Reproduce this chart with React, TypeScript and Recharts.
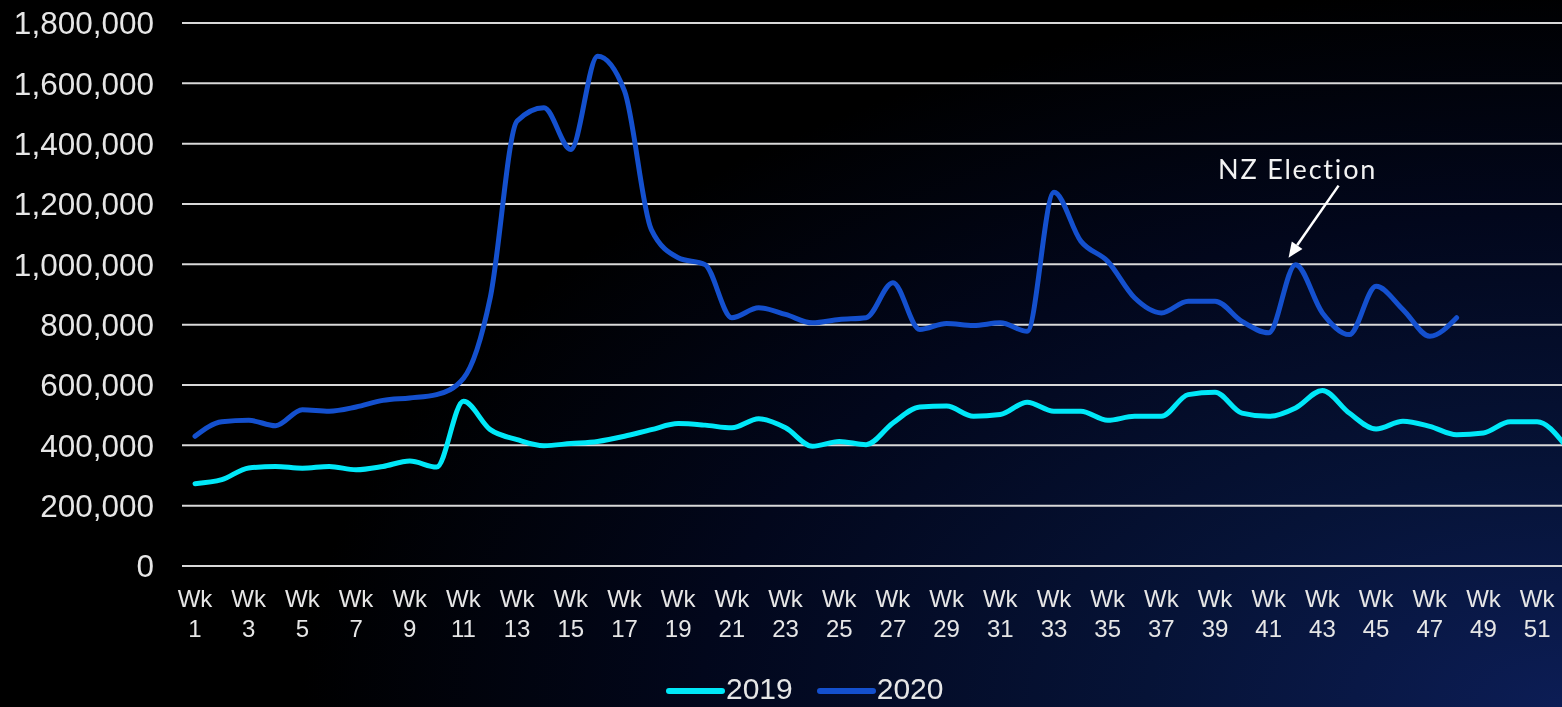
import { CartesianGrid, Legend, Line, LineChart, ReferenceDot, XAxis, YAxis } from "recharts";

const CHART_WIDTH = 1577;
const CHART_HEIGHT = 707;

const weeks = [
  "Wk 1", "Wk 2", "Wk 3", "Wk 4", "Wk 5", "Wk 6", "Wk 7", "Wk 8", "Wk 9", "Wk 10",
  "Wk 11", "Wk 12", "Wk 13", "Wk 14", "Wk 15", "Wk 16", "Wk 17", "Wk 18", "Wk 19", "Wk 20",
  "Wk 21", "Wk 22", "Wk 23", "Wk 24", "Wk 25", "Wk 26", "Wk 27", "Wk 28", "Wk 29", "Wk 30",
  "Wk 31", "Wk 32", "Wk 33", "Wk 34", "Wk 35", "Wk 36", "Wk 37", "Wk 38", "Wk 39", "Wk 40",
  "Wk 41", "Wk 42", "Wk 43", "Wk 44", "Wk 45", "Wk 46", "Wk 47", "Wk 48", "Wk 49", "Wk 50",
  "Wk 51", "Wk 52",
];

const visits2019 = [
  273000, 286000, 325000, 330000, 324000, 330000, 319000, 330000, 348000, 328000,
  546000, 452000, 419000, 399000, 406000, 413000, 430000, 452000, 472000, 467000,
  458000, 488000, 458000, 397000, 413000, 402000, 474000, 527000, 530000, 496000,
  502000, 543000, 513000, 513000, 483000, 496000, 496000, 568000, 576000, 507000,
  496000, 524000, 582000, 507000, 454000, 480000, 463000, 435000, 441000, 478000,
  478000, 405000,
];

const visits2020 = [
  430000, 478000, 483000, 465000, 518000, 513000, 527000, 549000, 557000, 568000,
  622000, 890000, 1475000, 1519000, 1381000, 1690000, 1575000, 1115000, 1022000, 999000,
  823000, 856000, 834000, 806000, 817000, 823000, 939000, 784000, 804000, 797000,
  806000, 778000, 1239000, 1077000, 1010000, 889000, 839000, 878000, 878000, 811000,
  773000, 999000, 839000, 767000, 927000, 850000, 762000, 823000,
];

const yTicks = [0, 200000, 400000, 600000, 800000, 1000000, 1200000, 1400000, 1600000, 1800000];

const electionWeek = "Wk 42";
const electionLabel = "NZ Election";

const COLOR_2019 = "#00e8f8";
const COLOR_2020 = "#1450ce";
const TEXT_COLOR = "#e6e6e6";
const AXIS_FONT = "'Liberation Sans', Arial, sans-serif";

const rows = weeks.map((week, i) => ({
  week,
  y2019: visits2019[i],
  y2020: visits2020[i],
}));

const electionValue = visits2020[weeks.indexOf(electionWeek)];

// two-line category label: "Wk" over the week number
function WeekTick({ x, y, payload }: any) {
  const [prefix, num] = String(payload.value).split(" ");
  return (
    <g fontFamily={AXIS_FONT} fontSize={24} fill={TEXT_COLOR} textAnchor="middle">
      <text x={x} y={y + 41}>{prefix}</text>
      <text x={x} y={y + 71}>{num}</text>
    </g>
  );
}

// label plus arrow pointing at the election-week peak
function ElectionCallout({ cx, cy }: any) {
  if (cx == null || cy == null) return null;
  const tipX = cx - 7;
  const tipY = cy - 7;
  const startX = cx + 43;
  const startY = cy - 79;
  const angle = Math.atan2(tipY - startY, tipX - startX);
  const headLen = 15;
  const headHalf = 6.5;
  const baseX = tipX - Math.cos(angle) * headLen;
  const baseY = tipY - Math.sin(angle) * headLen;
  const nx = -Math.sin(angle) * headHalf;
  const ny = Math.cos(angle) * headHalf;
  return (
    <g>
      <text
        x={cx + 2}
        y={cy - 86}
        textAnchor="middle"
        fontFamily="Lato, 'Open Sans', sans-serif"
        fontSize={27}
        letterSpacing={1.8}
        fill="#f2f2f2"
      >
        {electionLabel}
      </text>
      <line x1={startX} y1={startY} x2={baseX} y2={baseY} stroke="#ffffff" strokeWidth={2.5} />
      <polygon
        points={`${tipX},${tipY} ${baseX + nx},${baseY + ny} ${baseX - nx},${baseY - ny}`}
        fill="#ffffff"
      />
    </g>
  );
}

function YearLegend({ payload }: any) {
  return (
    <div style={{ display: "flex", alignItems: "center", height: 24 }}>
      {(payload ?? []).map((entry: any) => (
        <div key={entry.value} style={{ display: "flex", alignItems: "center", marginRight: 24 }}>
          <svg width={59} height={8} style={{ display: "block", marginTop: 3 }}>
            <line x1={3} y1={4} x2={56} y2={4} stroke={entry.color} strokeWidth={6} strokeLinecap="round" />
          </svg>
          <span
            style={{
              fontFamily: AXIS_FONT,
              fontSize: 30,
              lineHeight: "24px",
              color: TEXT_COLOR,
              marginLeft: 1,
            }}
          >
            {entry.value}
          </span>
        </div>
      ))}
    </div>
  );
}

export default function App() {
  return (
    <div
      style={{
        position: "fixed",
        left: 0,
        top: 0,
        width: 1562,
        height: 707,
        overflow: "hidden",
        background:
          "radial-gradient(ellipse 95% 120% at 100% 100%, #0c1d55 0%, #061337 28%, #02071c 58%, #000000 85%)",
      }}
    >
      <LineChart
        width={CHART_WIDTH}
        height={CHART_HEIGHT}
        data={rows}
        margin={{ top: 23, right: 0, left: 0, bottom: 57 }}
      >
        <CartesianGrid vertical={false} stroke="#d9d9d9" strokeWidth={2} />
        <XAxis
          dataKey="week"
          interval={1}
          padding={{ left: 13, right: 13 }}
          axisLine={false}
          tickLine={false}
          tickSize={0}
          tickMargin={0}
          height={60}
          tick={<WeekTick />}
        />
        <YAxis
          domain={[0, 1800000]}
          ticks={yTicks}
          width={182}
          axisLine={false}
          tickLine={false}
          tickSize={0}
          tickMargin={28}
          tickFormatter={(v: number) => v.toLocaleString("en-US")}
          tick={{ fill: TEXT_COLOR, fontSize: 31.5, fontFamily: AXIS_FONT }}
        />
        <Legend
          verticalAlign="bottom"
          content={<YearLegend />}
          wrapperStyle={{ left: 666, top: 677, width: "auto", height: 24 }}
        />
        <Line
          dataKey="y2019"
          name="2019"
          type="monotone"
          stroke={COLOR_2019}
          strokeWidth={5}
          strokeLinecap="round"
          dot={false}
          activeDot={false}
          isAnimationActive={false}
        />
        <Line
          dataKey="y2020"
          name="2020"
          type="monotone"
          stroke={COLOR_2020}
          strokeWidth={5}
          strokeLinecap="round"
          dot={false}
          activeDot={false}
          isAnimationActive={false}
        />
        <ReferenceDot
          x={electionWeek}
          y={electionValue}
          r={0}
          ifOverflow="visible"
          shape={<ElectionCallout />}
        />
      </LineChart>
    </div>
  );
}
